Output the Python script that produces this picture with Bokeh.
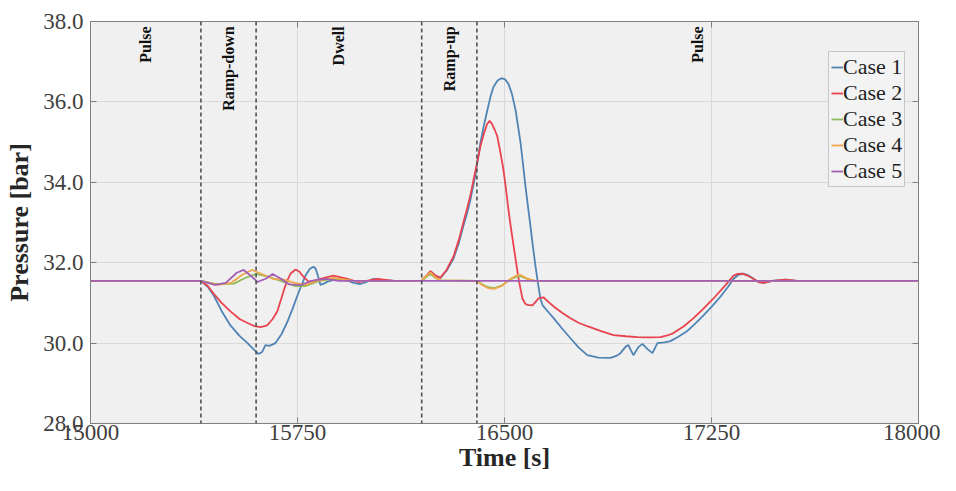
import math
from bokeh.plotting import figure
from bokeh.models import (Span, Legend, LegendItem, FixedTicker, LinearAxis,
                          NumeralTickFormatter, ColumnDataSource, Range1d,
                          CustomJSTickFormatter)
from bokeh.core.properties import value
from bokeh.embed import file_html
from bokeh.resources import INLINE

# ---------------- data ----------------
x_ticks = [15000, 15750, 16500, 17250, 18000]
y_ticks = [28, 30, 32, 34, 36, 38]

phase_names = ["Pulse", "Ramp-down", "Dwell", "Ramp-up", "Pulse"]
phase_centres = [15200, 15500, 15900, 16300, 17200]
phase_bounds = [15400, 15600, 16200, 16400]

case_names = ["Case 1", "Case 2", "Case 3", "Case 4", "Case 5"]

t1 = [15000, 15400, 15425, 15446, 15475, 15507, 15540, 15569, 15590, 15609, 15622, 15634,
      15648, 15670, 15692, 15714, 15732, 15750, 15765, 15779, 15795, 15808, 15816, 15822,
      15833, 15845, 15859, 15895, 15925, 15953, 15978, 16000, 16025, 16050, 16100, 16200,
      16215, 16232, 16250, 16268, 16290, 16315, 16335, 16351, 16365, 16377, 16395, 16413,
      16425, 16438, 16450, 16460, 16475, 16489, 16502, 16514, 16527, 16540, 16549, 16558,
      16567, 16576, 16585, 16594, 16603, 16612, 16621, 16630, 16638, 16658, 16678, 16710,
      16739, 16770, 16800, 16840, 16884, 16905, 16920, 16940, 16949, 16958, 16967, 16985,
      17000, 17018, 17036, 17054, 17080, 17101, 17130, 17162, 17190, 17221, 17250, 17283,
      17310, 17330, 17348, 17366, 17385, 17402, 17420, 17439, 17470, 17518, 17560, 18000]
p1 = [31.55, 31.55, 31.40, 31.19, 30.80, 30.44, 30.18, 30.00, 29.85, 29.73, 29.78, 29.95,
      29.93, 30.00, 30.22, 30.54, 30.85, 31.19, 31.45, 31.68, 31.85, 31.90, 31.85, 31.72,
      31.45, 31.48, 31.53, 31.60, 31.57, 31.50, 31.47, 31.52, 31.60, 31.58, 31.55, 31.55,
      31.65, 31.78, 31.68, 31.62, 31.80, 32.10, 32.50, 32.91, 33.25, 33.58, 34.20, 34.99,
      35.40, 35.80, 36.15, 36.37, 36.53, 36.59, 36.56, 36.45, 36.20, 35.80, 35.40, 34.99,
      34.45, 33.90, 33.40, 32.91, 32.40, 31.93, 31.50, 31.11, 30.94, 30.78, 30.62, 30.35,
      30.12, 29.88, 29.70, 29.64, 29.63, 29.68, 29.75, 29.92, 29.95, 29.82, 29.70, 29.90,
      29.98, 29.85, 29.75, 30.00, 30.02, 30.05, 30.16, 30.30, 30.48, 30.69, 30.90, 31.16,
      31.40, 31.60, 31.70, 31.73, 31.68, 31.60, 31.52, 31.50, 31.55, 31.58, 31.55, 31.55]

t2 = [15000, 15400, 15425, 15446, 15475, 15507, 15540, 15569, 15595, 15616, 15640, 15660,
      15677, 15699, 15712, 15725, 15743, 15756, 15768, 15790, 15810, 15833, 15880, 15931,
      15970, 16000, 16040, 16100, 16200, 16215, 16232, 16250, 16268, 16290, 16315, 16335,
      16351, 16365, 16377, 16395, 16413, 16425, 16437, 16446, 16455, 16465, 16474, 16485,
      16496, 16505, 16514, 16523, 16533, 16542, 16551, 16558, 16565, 16575, 16583, 16601,
      16612, 16623, 16641, 16660, 16678, 16710, 16739, 16770, 16800, 16850, 16895, 16940,
      16982, 17020, 17065, 17090, 17112, 17150, 17185, 17220, 17257, 17295, 17330, 17345,
      17362, 17380, 17402, 17420, 17439, 17470, 17518, 17560, 18000]
p2 = [31.55, 31.55, 31.42, 31.23, 31.00, 30.79, 30.60, 30.50, 30.42, 30.40, 30.44, 30.60,
      30.79, 31.28, 31.55, 31.73, 31.83, 31.78, 31.68, 31.53, 31.55, 31.60, 31.68, 31.60,
      31.52, 31.55, 31.60, 31.55, 31.55, 31.66, 31.79, 31.68, 31.63, 31.82, 32.15, 32.58,
      33.00, 33.36, 33.70, 34.30, 34.90, 35.20, 35.45, 35.53, 35.45, 35.30, 35.14, 34.75,
      34.32, 33.85, 33.33, 32.88, 32.42, 32.00, 31.60, 31.35, 31.11, 30.98, 30.95, 30.94,
      31.02, 31.11, 31.14, 31.02, 30.91, 30.75, 30.62, 30.50, 30.42, 30.30, 30.20, 30.17,
      30.15, 30.14, 30.15, 30.19, 30.25, 30.42, 30.62, 30.85, 31.11, 31.40, 31.68, 31.72,
      31.73, 31.68, 31.60, 31.52, 31.50, 31.55, 31.58, 31.55, 31.55]

t3 = [15000, 15400, 15460, 15520, 15560, 15600, 15640, 15690, 15740, 15780, 15830, 15880,
      15950, 16200, 16215, 16232, 16250, 16268, 16400, 16420, 16440, 16462, 16490, 16520,
      16545, 16560, 16580, 16610, 18000]
p3 = [31.55, 31.55, 31.46, 31.48, 31.62, 31.72, 31.66, 31.55, 31.42, 31.42, 31.55, 31.60,
      31.55, 31.55, 31.64, 31.72, 31.62, 31.56, 31.55, 31.46, 31.39, 31.37, 31.43, 31.58,
      31.66, 31.66, 31.60, 31.55, 31.55]

t4 = [15000, 15400, 15460, 15510, 15550, 15585, 15620, 15660, 15700, 15740, 15780, 15820,
      15880, 15950, 16200, 16215, 16232, 16250, 16268, 16400, 16420, 16440, 16462, 16490,
      16520, 16545, 16560, 16580, 16610, 18000]
p4 = [31.55, 31.55, 31.45, 31.50, 31.70, 31.82, 31.72, 31.60, 31.58, 31.50, 31.45, 31.55,
      31.62, 31.55, 31.55, 31.66, 31.76, 31.63, 31.56, 31.55, 31.44, 31.37, 31.35, 31.42,
      31.59, 31.69, 31.69, 31.61, 31.55, 31.55]

t5 = [15000, 15400, 15450, 15490, 15530, 15555, 15585, 15605, 15635, 15660, 15690, 15720,
      15760, 15800, 15850, 15900, 18000]
p5 = [31.55, 31.55, 31.45, 31.50, 31.75, 31.82, 31.65, 31.52, 31.60, 31.72, 31.60, 31.46,
      31.44, 31.55, 31.60, 31.55, 31.55]

series_t = [t1, t2, t3, t4, t5]
series_p = [p1, p2, p3, p4, p5]
colors = ["#4f84b5", "#e8434e", "#8dbb5a", "#f0a64a", "#a25fb6"]

SERIF = "Liberation Serif"

# ---------------- figure ----------------
p = figure(width=940, height=475, output_backend="svg", toolbar_location=None,
           x_range=Range1d(15000, 18000), y_range=Range1d(28, 38),
           min_border_left=90, min_border_right=22, min_border_top=21, min_border_bottom=52)
p.background_fill_color = "#f0f0f0"
p.border_fill_color = "white"
p.outline_line_color = "#808080"
p.outline_line_width = 1

p.xaxis.ticker = FixedTicker(ticks=x_ticks)
p.yaxis.ticker = FixedTicker(ticks=y_ticks)
p.yaxis.formatter = NumeralTickFormatter(format="0.0")

for ax in (p.xaxis[0], p.yaxis[0]):
    ax.axis_line_color = "#808080"
    ax.major_tick_in = 6
    ax.major_tick_out = 0
    ax.major_tick_line_color = "#808080"
    ax.minor_tick_line_color = None
    ax.major_label_text_font = SERIF
    ax.major_label_text_font_size = "23px"
    ax.major_label_text_color = "#404040"
    ax.axis_label_text_font = SERIF
    ax.axis_label_text_font_size = "26px"
    ax.axis_label_text_font_style = "bold"
    ax.axis_label_text_color = "#262626"

p.xaxis.axis_label = "Time [s]"
p.yaxis.axis_label = "Pressure [bar]"
p.xaxis.major_label_standoff = 1
p.xaxis.axis_label_standoff = 0
p.yaxis.major_label_standoff = 7
p.yaxis.axis_label_standoff = 6

p.xgrid.grid_line_color = "#d9d9d9"
p.ygrid.grid_line_color = "#d9d9d9"
p.xgrid.ticker = FixedTicker(ticks=x_ticks)
p.ygrid.ticker = FixedTicker(ticks=y_ticks)

# box ticks on top and right (no labels)
blank = CustomJSTickFormatter(code="return '';")
top = LinearAxis(ticker=FixedTicker(ticks=x_ticks), formatter=blank,
                 major_tick_in=6, major_tick_out=0, minor_tick_line_color=None,
                 axis_line_color="#808080", major_tick_line_color="#808080",
                 major_label_standoff=0)
right = LinearAxis(ticker=FixedTicker(ticks=y_ticks), formatter=blank,
                   major_tick_in=6, major_tick_out=0, minor_tick_line_color=None,
                   axis_line_color="#808080", major_tick_line_color="#808080",
                   major_label_standoff=0)
p.add_layout(top, "above")
p.add_layout(right, "right")

# phase boundaries
for b in phase_bounds:
    p.add_layout(Span(location=b, dimension="height", line_color="#505050",
                      line_width=1.6, line_dash="4 3"))

# phase labels
lab_src = ColumnDataSource(dict(x=phase_centres, y=[37.88] * len(phase_centres), t=phase_names))
p.text(x="x", y="y", text="t", source=lab_src, angle=math.pi / 2,
       text_align="right", text_baseline="middle",
       text_font=value(SERIF), text_font_size="16px", text_font_style="bold",
       text_color="#111111")

# series
items = []
for name, tt, pp, c in zip(case_names, series_t, series_p, colors):
    r = p.line(tt, pp, line_color=c, line_width=1.8)
    items.append(LegendItem(label=name, renderers=[r]))

legend = Legend(items=items, location=(738, 236))
legend.label_text_font = SERIF
legend.label_text_font_size = "22px"
legend.label_text_color = "#222222"
legend.glyph_width = 12
legend.glyph_height = 22
legend.label_height = 22
legend.label_standoff = 0
legend.spacing = 0
legend.padding = 2
legend.margin = 0
legend.border_line_color = "#999999"
legend.border_line_width = 1
legend.background_fill_color = "#f3f3f3"
legend.background_fill_alpha = 1
p.add_layout(legend)

open("out.html", "w").write(file_html(p, INLINE))
